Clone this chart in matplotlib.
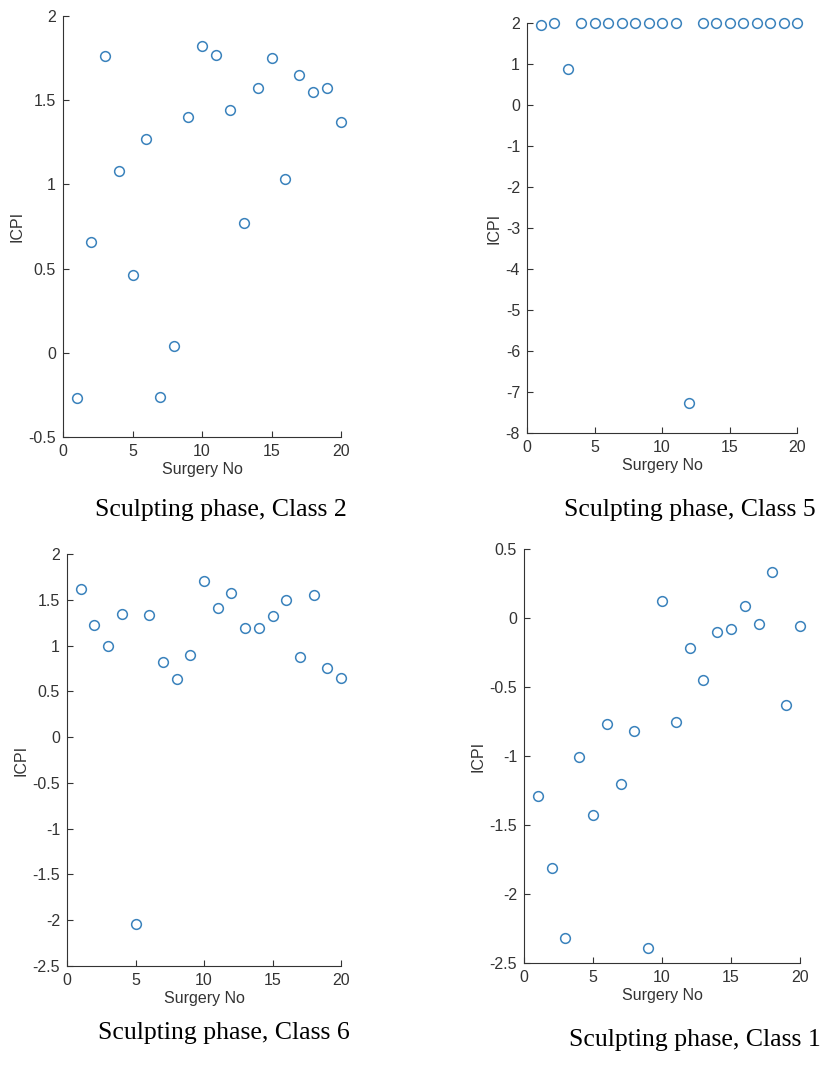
import matplotlib
matplotlib.use("Agg")
import matplotlib.pyplot as plt
from matplotlib.ticker import FuncFormatter

plt.rcParams["font.family"] = ["Liberation Sans", "DejaVu Sans"]

surgery_no = list(range(1, 21))

icpi_class2 = [-0.27, 0.66, 1.76, 1.08, 0.46, 1.27, -0.26, 0.04, 1.40, 1.82,
               1.77, 1.44, 0.77, 1.57, 1.75, 1.03, 1.65, 1.55, 1.57, 1.37]
icpi_class5 = [1.94, 2.0, 0.89, 2.0, 2.0, 2.0, 2.0, 2.0, 2.0, 2.0,
               2.0, -7.26, 2.0, 2.0, 2.0, 2.0, 2.0, 2.0, 2.0, 2.0]
icpi_class6 = [1.62, 1.22, 0.99, 1.35, -2.04, 1.33, 0.82, 0.64, 0.90, 1.70,
               1.41, 1.57, 1.19, 1.19, 1.32, 1.50, 0.88, 1.55, 0.76, 0.65]
icpi_class1 = [-1.29, -1.81, -2.32, -1.01, -1.43, -0.77, -1.20, -0.82, -2.39, 0.12,
               -0.75, -0.22, -0.45, -0.10, -0.08, 0.09, -0.04, 0.33, -0.63, -0.06]

captions = ["Sculpting phase, Class 2", "Sculpting phase, Class 5",
            "Sculpting phase, Class 6", "Sculpting phase, Class 1"]
ylims = [(-0.5, 2), (-8, 2), (-2.5, 2), (-2.5, 0.5)]
ysteps = [0.5, 1, 0.5, 0.5]

W, H = 825, 1076
# axes boxes in pixels: left, right, top, bottom
boxes = [(63, 341, 16, 437), (527, 797, 23, 433),
         (67, 341, 554, 966), (524, 800, 549, 963)]
caption_pos = [(221, 510), (690, 510), (224, 1033), (695, 1040)]

ink = "#333333"
marker_col = "#3A82BC"

fig = plt.figure(figsize=(W / 100, H / 100), dpi=100)
series = [icpi_class2, icpi_class5, icpi_class6, icpi_class1]

for vals, (l, r, t, b), (lo, hi), step, cap, (cx, cy) in zip(
        series, boxes, ylims, ysteps, captions, caption_pos):
    ax = fig.add_axes([l / W, 1 - b / H, (r - l) / W, (b - t) / H])
    ax.plot(surgery_no, vals, linestyle="none", marker="o", markersize=7,
            markerfacecolor="none", markeredgecolor=marker_col,
            markeredgewidth=1.1, clip_on=False)
    ax.set_xlim(0, 20)
    ax.set_ylim(lo, hi)
    ax.set_xticks([0, 5, 10, 15, 20])
    n = int(round((hi - lo) / step))
    ax.set_yticks([lo + i * step for i in range(n + 1)])
    ax.yaxis.set_major_formatter(FuncFormatter(lambda v, p: f"{v:g}"))
    for s in ["top", "right"]:
        ax.spines[s].set_visible(False)
    for s in ["left", "bottom"]:
        ax.spines[s].set_color(ink)
        ax.spines[s].set_linewidth(0.8)
    ax.tick_params(direction="in", length=4, width=0.8, colors=ink,
                   labelsize=11.5, labelcolor=ink)
    ax.tick_params(axis="x", pad=5)
    ax.tick_params(axis="y", pad=5)
    ax.set_xlabel("Surgery No", fontsize=11.5, color=ink, labelpad=2)
    ax.set_ylabel("ICPI", fontsize=11.5, color=ink, labelpad=3)
    fig.text(cx / W, 1 - cy / H, cap, ha="center", va="center",
             family="Liberation Serif", fontsize=18.5, color="black")

fig.savefig("out.png", dpi=100)
